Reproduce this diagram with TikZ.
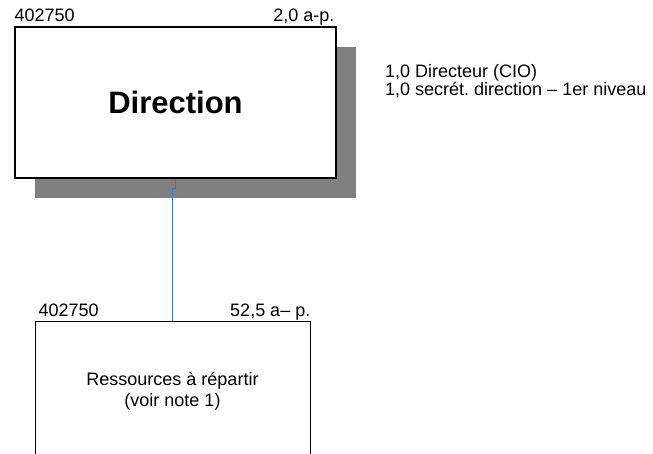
\documentclass[tikz,border=0pt]{standalone}
\usepackage{fontspec}
\setmainfont{Liberation Sans}
\usepackage{tikz}
\usetikzlibrary{positioning, shadows}
\definecolor{shadowgray}{HTML}{808080}
\definecolor{linkblue}{HTML}{4472C4}
\frenchspacing

\begin{document}
\begin{tikzpicture}[
    x=1pt, y=-1pt,
    unit/.style={rectangle, draw=black, fill=white, inner sep=0pt, align=center, font=\fontsize{18}{21}\selectfont},
    tag/.style={inner sep=0pt, font=\fontsize{18}{21}\selectfont},
    link/.style={draw=linkblue, line width=0.9pt}
]
\useasboundingbox (0,0) rectangle (653,453);
\clip (0,0) rectangle (653,453);

% Boxes
\node[unit, line width=1.4pt, minimum width=321pt, minimum height=151pt,
      drop shadow={shadow xshift=20pt, shadow yshift=-20pt, fill=shadowgray, opacity=1},
      font=\fontsize{31}{36}\selectfont\bfseries] (dir) at (175.5,102.5) {Direction};
\node[unit, line width=1pt, minimum width=275pt, minimum height=140pt] (res) at (172.5,391)
      {Ressources à répartir\\(voir note 1)};

% Codes and staff counts
\node[tag, anchor=base west] (dircode) at ([yshift=4.5pt]dir.north west) {402750};
\node[tag, anchor=base east] (dirfte) at ([xshift=-2pt, yshift=4.5pt]dir.north east) {2,0 a-p.};
\node[tag, anchor=base west] (rescode) at ([xshift=4pt, yshift=4.5pt]res.north west) {402750};
\node[tag, anchor=base east] (resfte) at ([yshift=4.5pt]res.north east) {52,5 a– p.};

% Staff
\node[tag, anchor=north west, align=left, font=\fontsize{18}{18.5}\selectfont] (staff) at (385,64)
      {1,0 Directeur (CIO)\\1,0 secrét. direction – 1er niveau};

% Link
\draw[link] (dir.south) -- ++(0,10) -| (res.north);

\end{tikzpicture}
\end{document}
